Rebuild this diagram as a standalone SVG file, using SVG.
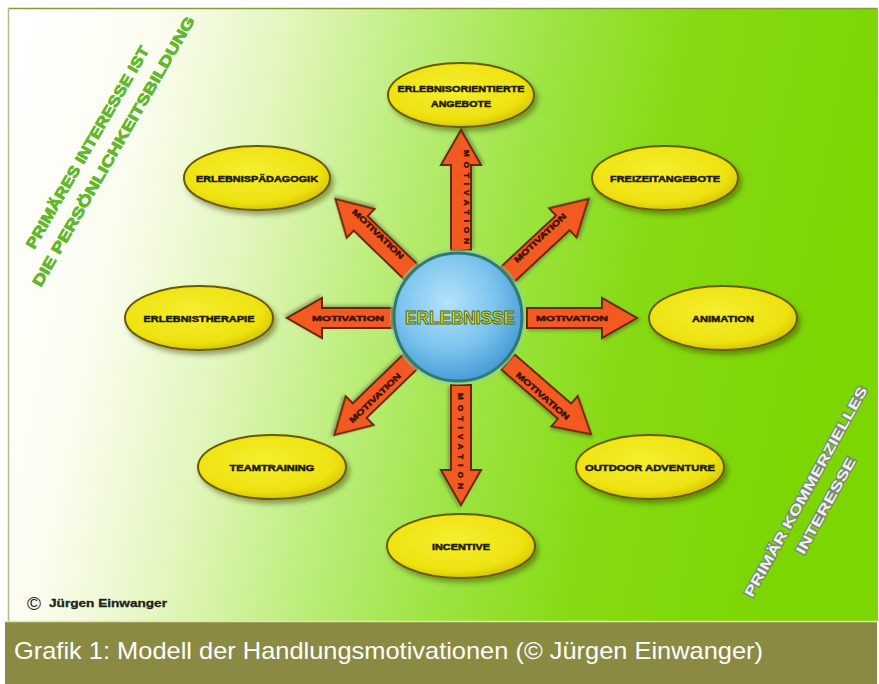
<svg xmlns="http://www.w3.org/2000/svg" width="879" height="684" viewBox="0 0 879 684">
<defs>
<linearGradient id="bg" x1="0" y1="0" x2="1" y2="0.15">
<stop offset="0" stop-color="#ffffff"/>
<stop offset="0.17" stop-color="#fbfdf0"/>
<stop offset="0.32" stop-color="#e2f6bc"/>
<stop offset="0.46" stop-color="#bfee80"/>
<stop offset="0.62" stop-color="#9ce442"/>
<stop offset="0.78" stop-color="#86da12"/>
<stop offset="1" stop-color="#7cd602"/>
</linearGradient>
<radialGradient id="ell" cx="0.45" cy="0.4" r="0.6">
<stop offset="0" stop-color="#f6ee30"/>
<stop offset="0.8" stop-color="#eee210"/>
<stop offset="1" stop-color="#d8c800"/>
</radialGradient>
<radialGradient id="ball" cx="0.42" cy="0.38" r="0.62">
<stop offset="0" stop-color="#b4e2fa"/>
<stop offset="0.6" stop-color="#7cc4ee"/>
<stop offset="1" stop-color="#4a9ed8"/>
</radialGradient>
<filter id="sh" x="-20%" y="-20%" width="150%" height="160%">
<feDropShadow dx="3" dy="4" stdDeviation="2.5" flood-color="#3a3a00" flood-opacity="0.45"/>
</filter>
<filter id="ash" x="-20%" y="-40%" width="140%" height="180%">
<feDropShadow dx="2" dy="2" stdDeviation="1.5" flood-color="#333" flood-opacity="0.35"/>
</filter>
<polygon id="arr120" points="0,-10 85,-10 85,-20 120,0 85,20 85,10 0,10"/>
<polygon id="arr110" points="0,-10 75,-10 75,-20 110,0 75,20 75,10 0,10"/>
<polygon id="arr105" points="0,-10 70,-10 70,-20 105,0 70,20 70,10 0,10"/>
</defs>
<style>
.ell{fill:url(#ell);stroke:#6a5a00;stroke-width:2;filter:url(#sh)}
.lbl{font-family:"Liberation Sans",Arial,sans-serif;font-weight:bold;font-size:9.5px;fill:#1e1a00;stroke:#1e1a00;stroke-width:0.5;text-anchor:middle}
.arr{fill:#f25a22;stroke:#6a2600;stroke-width:2;stroke-linejoin:miter;filter:url(#ash)}
.mot{font-family:"Liberation Sans",Arial,sans-serif;font-weight:bold;font-size:8px;fill:#3a1200;stroke:#3a1200;stroke-width:0.45;text-anchor:middle}
.gtx{font-family:"Liberation Sans",Arial,sans-serif;font-weight:bold;font-size:15px;fill:#62b828;stroke:#ffffff;stroke-width:3;paint-order:stroke;text-anchor:middle}
.gin{font-family:"Liberation Sans",Arial,sans-serif;font-weight:bold;font-size:15px;fill:#62b828;stroke:#62b828;stroke-width:0.8;text-anchor:middle}
.wtx{font-family:"Liberation Sans",Arial,sans-serif;font-weight:bold;font-size:14px;fill:#eef2f0;stroke:#7a8a70;stroke-width:2.5;paint-order:stroke;text-anchor:middle}
</style>
<rect x="0" y="0" width="879" height="684" fill="#ffffff"/>
<rect x="8" y="8" width="870" height="613" fill="url(#bg)"/>
<line x1="8" y1="8.5" x2="878" y2="8.5" stroke="#8a9a3a" stroke-width="1.5"/>
<line x1="8.5" y1="8" x2="8.5" y2="621" stroke="#b8b888" stroke-width="1.5"/>
<line x1="877.5" y1="8" x2="877.5" y2="621" stroke="#a8b860" stroke-width="1"/>
<rect x="5" y="621" width="872" height="63" fill="#8b8a42"/>
<line x1="5" y1="621.5" x2="877" y2="621.5" stroke="#dfe6b0" stroke-width="1.5"/>

<g id="corner-left">
<text class="gtx" transform="translate(92,150) rotate(-60)" textLength="231" lengthAdjust="spacingAndGlyphs">PRIMÄRES INTERESSE IST</text>
<text class="gtx" transform="translate(118,154) rotate(-60)" textLength="309" lengthAdjust="spacingAndGlyphs">DIE PERSÖNLICHKEITSBILDUNG</text>
<text class="gin" transform="translate(92,150) rotate(-60)" textLength="231" lengthAdjust="spacingAndGlyphs">PRIMÄRES INTERESSE IST</text>
<text class="gin" transform="translate(118,154) rotate(-60)" textLength="309" lengthAdjust="spacingAndGlyphs">DIE PERSÖNLICHKEITSBILDUNG</text>
</g>
<g id="corner-right">
<text class="wtx" transform="translate(810,494) rotate(-61)" textLength="238" lengthAdjust="spacingAndGlyphs">PRIMÄR KOMMERZIELLES</text>
<text class="wtx" transform="translate(830,508) rotate(-61)" textLength="108" lengthAdjust="spacingAndGlyphs">INTERESSE</text>
</g>

<g id="connectors">
<g transform="translate(461,250) rotate(-90)"><use href="#arr120" class="arr"/></g>
<g transform="translate(461,385) rotate(90)"><use href="#arr120" class="arr"/></g>
<g transform="translate(392,318) rotate(180)"><use href="#arr105" class="arr"/></g>
<g transform="translate(527,318)"><use href="#arr110" class="arr"/></g>
<g transform="translate(411,272) rotate(-136)"><use href="#arr105" class="arr"/></g>
<g transform="translate(508,274) rotate(-43)"><use href="#arr110" class="arr"/></g>
<g transform="translate(410,362) rotate(136)"><use href="#arr105" class="arr"/></g>
<g transform="translate(508,362) rotate(41)"><use href="#arr110" class="arr"/></g>
<text class="mot" transform="translate(464,197) rotate(90)" textLength="94" lengthAdjust="spacing">MOTIVATION</text>
<text class="mot" transform="translate(458,441) rotate(90)" textLength="96" lengthAdjust="spacing">MOTIVATION</text>
<text class="mot" transform="translate(348,321)" textLength="72" lengthAdjust="spacingAndGlyphs">MOTIVATION</text>
<text class="mot" transform="translate(572,321)" textLength="72" lengthAdjust="spacingAndGlyphs">MOTIVATION</text>
<text class="mot" transform="translate(376,236) rotate(44)" textLength="68" lengthAdjust="spacingAndGlyphs">MOTIVATION</text>
<text class="mot" transform="translate(542,240) rotate(-43)" textLength="68" lengthAdjust="spacingAndGlyphs">MOTIVATION</text>
<text class="mot" transform="translate(377,400) rotate(-44)" textLength="68" lengthAdjust="spacingAndGlyphs">MOTIVATION</text>
<text class="mot" transform="translate(541,398) rotate(41)" textLength="68" lengthAdjust="spacingAndGlyphs">MOTIVATION</text>
</g>

<g id="center">
<circle cx="458" cy="317" r="66" fill="none" stroke="#8fd0a0" stroke-width="4" opacity="0.6"/>
<circle cx="458" cy="317" r="64" fill="url(#ball)" stroke="#2f7a72" stroke-width="3"/>
<text x="460" y="324" font-family="Liberation Sans,Arial,sans-serif" font-weight="bold" font-size="19" fill="#dce41e" stroke="#4e6a18" stroke-width="1" text-anchor="middle" textLength="110" lengthAdjust="spacingAndGlyphs">ERLEBNISSE</text>
</g>

<g id="n-angebote">
<ellipse class="ell" cx="461" cy="95" rx="73" ry="32"/>
<text class="lbl" x="461" y="92" textLength="127" lengthAdjust="spacingAndGlyphs">ERLEBNISORIENTIERTE</text>
<text class="lbl" x="461" y="107" textLength="60" lengthAdjust="spacingAndGlyphs">ANGEBOTE</text>
</g>
<g id="n-erlebnispaedagogik">
<ellipse class="ell" cx="257" cy="178" rx="73" ry="32"/>
<text class="lbl" x="257" y="182" textLength="122" lengthAdjust="spacingAndGlyphs">ERLEBNISPÄDAGOGIK</text>
</g>
<g id="n-freizeit">
<ellipse class="ell" cx="665" cy="178" rx="73" ry="32"/>
<text class="lbl" x="665" y="182" textLength="110" lengthAdjust="spacingAndGlyphs">FREIZEITANGEBOTE</text>
</g>
<g id="n-therapie">
<ellipse class="ell" cx="199" cy="318" rx="74" ry="32"/>
<text class="lbl" x="199" y="322" textLength="111" lengthAdjust="spacingAndGlyphs">ERLEBNISTHERAPIE</text>
</g>
<g id="n-animation">
<ellipse class="ell" cx="723" cy="318" rx="74" ry="32"/>
<text class="lbl" x="723" y="322" textLength="62" lengthAdjust="spacingAndGlyphs">ANIMATION</text>
</g>
<g id="n-teamtraining">
<ellipse class="ell" cx="272" cy="467" rx="74" ry="32"/>
<text class="lbl" x="272" y="471" textLength="85" lengthAdjust="spacingAndGlyphs">TEAMTRAINING</text>
</g>
<g id="n-outdoor">
<ellipse class="ell" cx="650" cy="467" rx="74" ry="32"/>
<text class="lbl" x="650" y="471" textLength="130" lengthAdjust="spacingAndGlyphs">OUTDOOR ADVENTURE</text>
</g>
<g id="n-incentive">
<ellipse class="ell" cx="461" cy="546" rx="74" ry="32"/>
<text class="lbl" x="461" y="550" textLength="58" lengthAdjust="spacingAndGlyphs">INCENTIVE</text>
</g>

<g id="copyright">
<text x="27" y="610" font-family="Liberation Sans,Arial,sans-serif" font-size="19" fill="#222">©</text>
<text x="49" y="607" font-family="Liberation Sans,Arial,sans-serif" font-weight="bold" font-size="10.5" fill="#222" stroke="#222" stroke-width="0.3" textLength="118" lengthAdjust="spacingAndGlyphs">Jürgen Einwanger</text>
</g>
<text x="14" y="659" font-family="Liberation Sans,Arial,sans-serif" font-size="24" fill="#ffffff" textLength="749" lengthAdjust="spacingAndGlyphs">Grafik 1: Modell der Handlungsmotivationen (© Jürgen Einwanger)</text>
</svg>
